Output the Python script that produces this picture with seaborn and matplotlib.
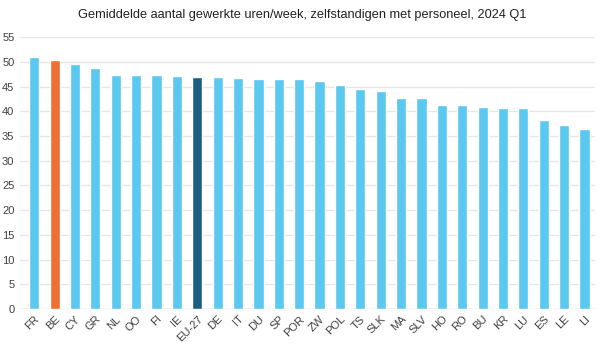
import pandas as pd
import seaborn as sns
import matplotlib.pyplot as plt

# Data
landen = ["FR", "BE", "CY", "GR", "NL", "OO", "FI", "IE", "EU-27", "DE",
          "IT", "DU", "SP", "POR", "ZW", "POL", "TS", "SLK", "MA", "SLV",
          "HO", "RO", "BU", "KR", "LU", "ES", "LE", "LI"]
uren = [50.9, 50.3, 49.6, 48.8, 47.4, 47.4, 47.4, 47.2, 47.0, 47.0,
        46.8, 46.6, 46.6, 46.5, 46.2, 45.4, 44.5, 44.2, 42.6, 42.6,
        41.2, 41.2, 40.8, 40.6, 40.6, 38.3, 37.2, 36.4]

yticks = list(range(0, 60, 5))

blauw = "#5BC8F0"
oranje = "#ED7031"
donker = "#1B5E80"
kleuren = [oranje if l == "BE" else donker if l == "EU-27" else blauw for l in landen]

df = pd.DataFrame({"land": landen, "uren": uren})

sns.set_style("white")
plt.rcParams["font.family"] = ["Liberation Sans", "DejaVu Sans"]

fig = plt.figure(figsize=(6.05, 3.5), dpi=100)
ax = fig.add_axes([0.033, 0.117, 0.95, 0.777])

sns.barplot(data=df, x="land", y="uren", hue="land", palette=kleuren,
            saturation=1, legend=False, width=0.5, ax=ax, zorder=3)

ax.set_ylim(0, 55)
ax.set_yticks(yticks)
ax.set_xlim(-0.7, len(landen) - 0.5)
ax.yaxis.grid(True, color="#E6E6E6", linewidth=0.9, zorder=0)
ax.set_axisbelow(True)
for s in ax.spines.values():
    s.set_visible(False)
ax.axhline(0, color="#D9D9D9", linewidth=1, zorder=1)

ax.tick_params(axis="both", length=0, labelsize=8, colors="#404040")
ax.tick_params(axis="y", pad=4)
plt.setp(ax.get_xticklabels(), rotation=45, ha="right", rotation_mode="anchor")
ax.set_xlabel("")
ax.set_ylabel("")

fig.suptitle("Gemiddelde aantal gewerkte uren/week, zelfstandigen met personeel, 2024 Q1",
             x=0.5, y=0.975, fontsize=9.2, color="#202020")

plt.savefig("out.png", dpi=100)
